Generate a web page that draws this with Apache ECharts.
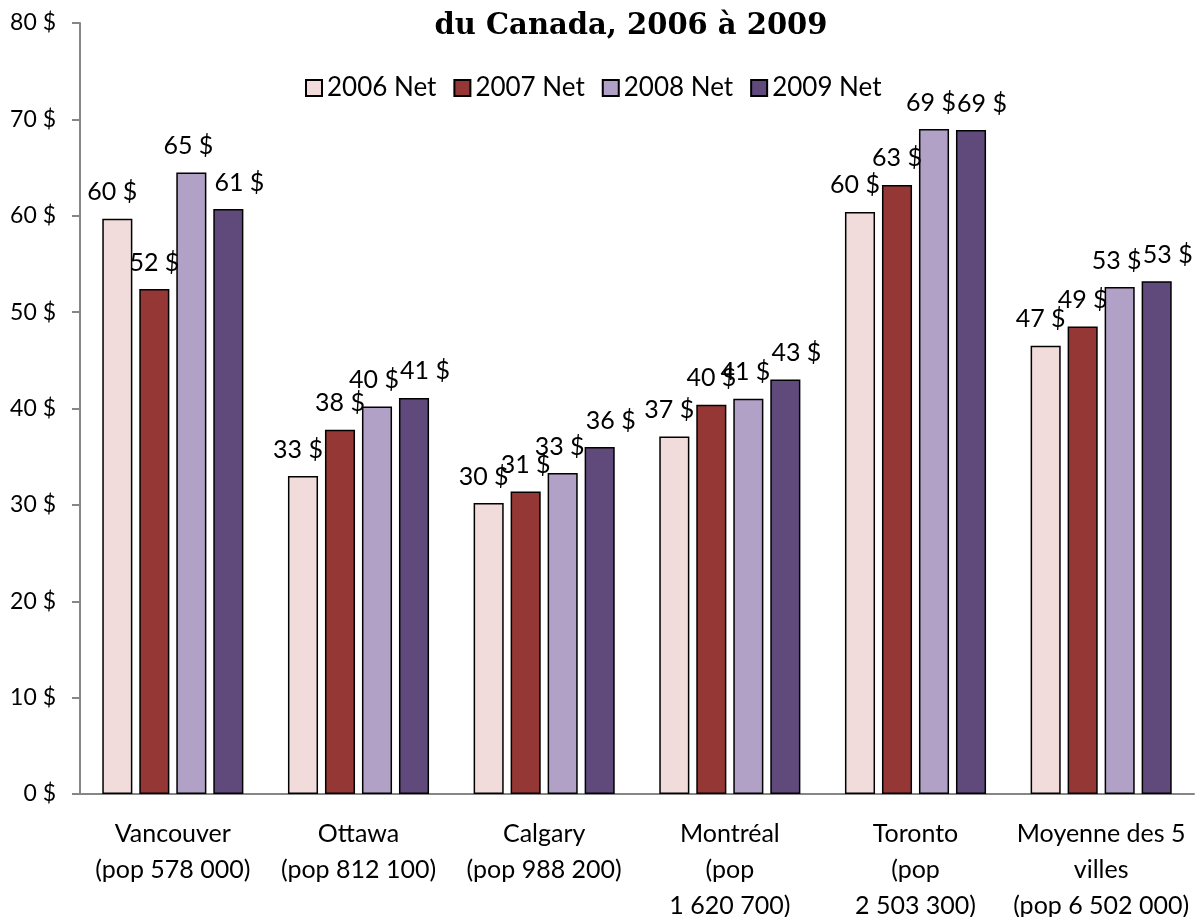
<!DOCTYPE html>
<html>
<head>
<meta charset="utf-8">
<script src="https://cdn.jsdelivr.net/npm/echarts@6/dist/echarts.min.js"></script>
<style>html,body{margin:0;padding:0;background:#fff}#c{width:1199px;height:917px}</style>
</head>
<body>
<div id="c"></div>
<script>
const categories = [
  "Vancouver\n(pop 578 000)",
  "Ottawa\n(pop 812 100)",
  "Calgary\n(pop 988 200)",
  "Montréal\n(pop\n1 620 700)",
  "Toronto\n(pop\n2 503 300)",
  "Moyenne des 5\nvilles\n(pop 6 502 000)"
];
const seriesNames = ["2006 Net", "2007 Net", "2008 Net", "2009 Net"];
const net2006 = [59.7, 33.0, 30.2, 37.1, 60.4, 46.5];
const net2007 = [52.4, 37.8, 31.4, 40.4, 63.2, 48.5];
const net2008 = [64.5, 40.2, 33.3, 41.0, 69.0, 52.6];
const net2009 = [60.7, 41.1, 36.0, 43.0, 68.9, 53.2];
const yTicks = [0, 10, 20, 30, 40, 50, 60, 70, 80];
const titleText = "du Canada, 2006 à 2009";

const colors = ["#F2DCDB", "#953735", "#B2A1C7", "#604A7B"];
const labelShift = [[-5, 0], [0, 0], [-3, 0], [11, 0]];
const values = [net2006, net2007, net2008, net2009];
const font = "Lato, 'Open Sans', sans-serif";

const chart = echarts.init(document.getElementById('c'));
chart.setOption({
  animation: false,
  title: {
    text: titleText,
    left: 626, top: 7, textAlign: 'center',
    textStyle: { fontFamily: "'DejaVu Serif', serif", fontWeight: 'bold', fontSize: 29, color: '#000' }
  },
  legend: {
    data: seriesNames,
    left: 300, top: 70, itemWidth: 16, itemHeight: 16, itemGap: 17,
    textStyle: { fontFamily: font, fontSize: 26, color: '#000' },
    icon: 'rect'
  },
  grid: { left: 80, right: 5, top: 23, bottom: 123, containLabel: false, outerBoundsMode: 'none' },
  xAxis: {
    type: 'category', data: categories,
    axisLine: { lineStyle: { color: '#868686', width: 2 } },
    axisTick: { show: false },
    axisLabel: { fontFamily: font, fontSize: 25, color: '#000', lineHeight: 36, margin: 22, interval: 0 }
  },
  yAxis: {
    type: 'value', min: yTicks[0], max: yTicks[yTicks.length - 1], interval: 10,
    axisLine: { show: true, lineStyle: { color: '#868686', width: 2 } },
    axisTick: { show: true, length: 8, lineStyle: { color: '#868686', width: 2 } },
    splitLine: { show: false },
    axisLabel: { fontFamily: font, fontSize: 23, color: '#000', margin: 24, formatter: v => v + ' $' }
  },
  series: seriesNames.map((n, i) => ({
    name: n, type: 'bar', data: values[i],
    barGap: '23%', barCategoryGap: '24%',
    itemStyle: { color: colors[i], borderColor: '#000', borderWidth: 1.5 },
    label: {
      show: true, position: 'top', distance: 14, offset: labelShift[i],
      fontFamily: font, fontSize: 25, color: '#000',
      formatter: p => Math.round(p.value) + ' $'
    }
  }))
});
</script>
</body>
</html>
